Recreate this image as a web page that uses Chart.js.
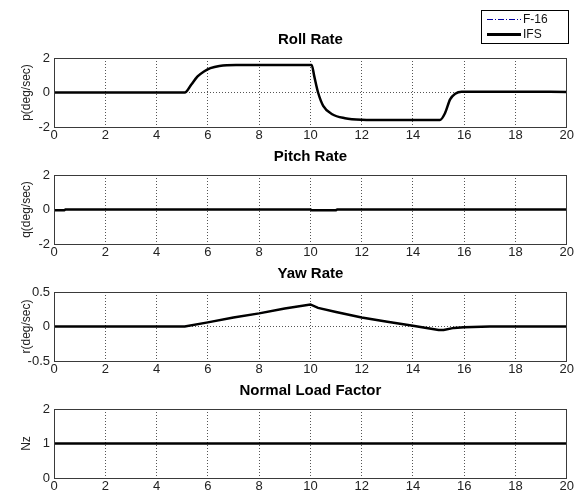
<!DOCTYPE html>
<html>
<head>
<meta charset="utf-8">
<script src="https://cdn.jsdelivr.net/npm/chart.js@4.4.1/dist/chart.umd.min.js"></script>
<style>
  html, body { margin: 0; padding: 0; background: #fff; }
  body { width: 575px; height: 495px; position: relative; overflow: hidden; }
  .panel { position: absolute; left: 0; width: 575px; }
</style>
</head>
<body>
<div class="panel" id="p1" style="top:0px;height:143px"><canvas id="rollChart"></canvas></div>
<div class="panel" id="p2" style="top:149px;height:111px"><canvas id="pitchChart"></canvas></div>
<div class="panel" id="p3" style="top:266px;height:111px"><canvas id="yawChart"></canvas></div>
<div class="panel" id="p4" style="top:383px;height:111px"><canvas id="nzChart"></canvas></div>
<script>
// Datos (tiempo en segundos)
const xTicks = [0, 2, 4, 6, 8, 10, 12, 14, 16, 18, 20];
const seriesNames = ["F-16", "IFS"];

const rollTime = [0, 5.1, 5.35, 5.6, 5.85, 6.1, 6.45, 7.1, 8, 9, 10.05, 10.15, 10.3, 10.5, 10.85, 11.35, 12, 13, 14, 15.05, 15.25, 15.45, 15.65, 15.9, 16.5, 18, 20];
const rollIFS  = [0, 0, 0.45, 0.93, 1.22, 1.41, 1.54, 1.6, 1.6, 1.6, 1.6, 0.95, 0, -0.77, -1.26, -1.49, -1.58, -1.6, -1.6, -1.6, -1.2, -0.4, -0.07, 0.05, 0.05, 0.05, 0.03];
const rollF16  = [0, 0, 0.45, 0.93, 1.22, 1.41, 1.54, 1.6, 1.6, 1.6, 1.6, 0.95, 0, -0.77, -1.26, -1.49, -1.58, -1.6, -1.6, -1.6, -1.2, -0.4, -0.07, 0.05, 0.05, 0.05, 0.03];

const pitchTime = [0, 0.4, 0.45, 10, 10.05, 10.5, 11, 11.05, 20];
const pitchIFS  = [-0.05, -0.05, 0, 0, -0.04, -0.04, -0.04, 0, 0];
const pitchF16  = [-0.05, -0.05, 0, 0, -0.04, -0.04, -0.04, 0, 0];

const yawTime = [0, 2, 4, 5.1, 6, 7, 8, 9, 10, 10.3, 11, 12, 13, 14, 15, 15.2, 15.6, 16, 17, 20];
const yawIFS  = [0, 0, 0, 0, 0.06, 0.13, 0.19, 0.26, 0.32, 0.27, 0.21, 0.13, 0.07, 0.01, -0.05, -0.05, -0.02, -0.01, 0, 0];
const yawF16  = [0, 0, 0, 0, 0.06, 0.13, 0.19, 0.26, 0.32, 0.27, 0.21, 0.13, 0.07, 0.01, -0.05, -0.05, -0.02, -0.01, 0, 0];

const nzTime = [0, 20];
const nzIFS  = [1, 1];
const nzF16  = [1, 1];

const FONT = "'Liberation Sans Narrow', 'Liberation Sans', Arial, sans-serif";

function pts(t, v) {
  return t.map((x, i) => ({ x, y: v[i] }));
}

// Caja del eje (estilo MATLAB)
const boxPlugin = {
  id: "box",
  afterDatasetsDraw(chart) {
    const a = chart.chartArea;
    const ctx = chart.ctx;
    ctx.save();
    ctx.strokeStyle = "#3a3a3a";
    ctx.lineWidth = 1;
    ctx.strokeRect(Math.round(a.left) + 0.5, Math.round(a.top) + 0.5, Math.round(a.right - a.left) - 1, Math.round(a.bottom - a.top));
    ctx.restore();
  }
};

// Leyenda con recuadro
const legendBoxPlugin = {
  id: "legendBox",
  afterDraw(chart, args, opts) {
    if (!opts.show) return;
    const ctx = chart.ctx;
    const x = 481, y = 10, w = 87, h = 33;
    ctx.save();
    ctx.fillStyle = "#fff";
    ctx.fillRect(x, y, w, h);
    ctx.strokeStyle = "#000";
    ctx.lineWidth = 1;
    ctx.strokeRect(x + 0.5, y + 0.5, w, h);
    ctx.font = "12px " + FONT;
    ctx.textBaseline = "middle";
    chart.data.datasets.forEach((ds, i) => {
      const ly = Math.round(y + 9 + i * 14.5) + (ds.borderWidth % 2 ? 0.5 : 0);
      ctx.beginPath();
      ctx.strokeStyle = ds.borderColor;
      ctx.lineWidth = Math.round(ds.borderWidth);
      ctx.setLineDash(ds.borderDash || []);
      ctx.moveTo(x + 6, ly);
      ctx.lineTo(x + 40, ly);
      ctx.stroke();
      ctx.setLineDash([]);
      ctx.fillStyle = "#111";
      ctx.fillText(ds.label, x + 42, ly);
    });
    ctx.restore();
  }
};

function makeChart(id, opt) {
  const edge = c => (c.tick && (c.tick.value === opt.yMin || c.tick.value === opt.yMax)) ? "rgba(0,0,0,0)" : "#555";
  const xEdge = c => (c.tick && (c.tick.value === 0 || c.tick.value === 20)) ? "rgba(0,0,0,0)" : "#555";
  return new Chart(document.getElementById(id), {
    type: "line",
    data: {
      datasets: [
        {
          label: seriesNames[0],
          data: pts(opt.t, opt.f16),
          borderColor: "#0000a0",
          borderWidth: 1,
          borderDash: [6, 2, 1, 2],
          pointRadius: 0,
          order: 1,
          cubicInterpolationMode: opt.smooth ? "monotone" : "default",
          tension: 0
        },
        {
          label: seriesNames[1],
          data: pts(opt.t, opt.ifs),
          borderColor: "#000",
          borderWidth: 2.5,
          pointRadius: 0,
          order: 0,
          cubicInterpolationMode: opt.smooth ? "monotone" : "default",
          tension: 0
        }
      ]
    },
    options: {
      responsive: true,
      maintainAspectRatio: false,
      animation: false,
      events: [],
      layout: { padding: { top: opt.padTop || 0, right: 6, left: 0, bottom: 0 } },
      plugins: {
        legend: { display: false },
        tooltip: { enabled: false },
        title: {
          display: true,
          text: opt.title,
          fullSize: false,
          color: "#000",
          font: { family: FONT, size: 15, weight: "bold", lineHeight: "16px" },
          padding: { top: 0, bottom: 10 }
        },
        legendBox: { show: !!opt.legend }
      },
      scales: {
        x: {
          type: "linear",
          min: 0,
          max: 20,
          afterBuildTicks: s => { s.ticks = xTicks.map(v => ({ value: v })); },
          afterFit: s => { s.height = 16; },
          ticks: { color: "#222", padding: 1, maxRotation: 0, autoSkip: false, font: { family: FONT, size: 13 } },
          grid: { color: xEdge, lineWidth: 1, drawTicks: false },
          border: { display: false, dash: [1, 2] }
        },
        y: {
          min: opt.yMin,
          max: opt.yMax,
          afterBuildTicks: s => { s.ticks = opt.yTicks.map(v => ({ value: v })); },
          afterFit: s => { s.width = 54; },
          ticks: { color: "#222", padding: 4, font: { family: FONT, size: 13 } },
          grid: { color: edge, lineWidth: 1, drawTicks: false },
          border: { display: false, dash: [1, 2] },
          title: {
            display: true,
            text: opt.yLabel,
            color: "#222",
            font: { family: FONT, size: 12, lineHeight: "12px" },
            padding: { top: 21, bottom: 0 }
          }
        }
      }
    },
    plugins: [boxPlugin, legendBoxPlugin]
  });
}

makeChart("rollChart", { title: "Roll Rate", yLabel: "p(deg/sec)", t: rollTime, ifs: rollIFS, f16: rollF16, yMin: -2, yMax: 2, yTicks: [-2, 0, 2], padTop: 32, legend: true, smooth: true });
makeChart("pitchChart", { title: "Pitch Rate", yLabel: "q(deg/sec)", t: pitchTime, ifs: pitchIFS, f16: pitchF16, yMin: -2, yMax: 2, yTicks: [-2, 0, 2] });
makeChart("yawChart", { title: "Yaw Rate", yLabel: "r(deg/sec)", t: yawTime, ifs: yawIFS, f16: yawF16, yMin: -0.5, yMax: 0.5, yTicks: [-0.5, 0, 0.5] });
makeChart("nzChart", { title: "Normal Load Factor", yLabel: "Nz", t: nzTime, ifs: nzIFS, f16: nzF16, yMin: 0, yMax: 2, yTicks: [0, 1, 2] });
</script>
</body>
</html>
